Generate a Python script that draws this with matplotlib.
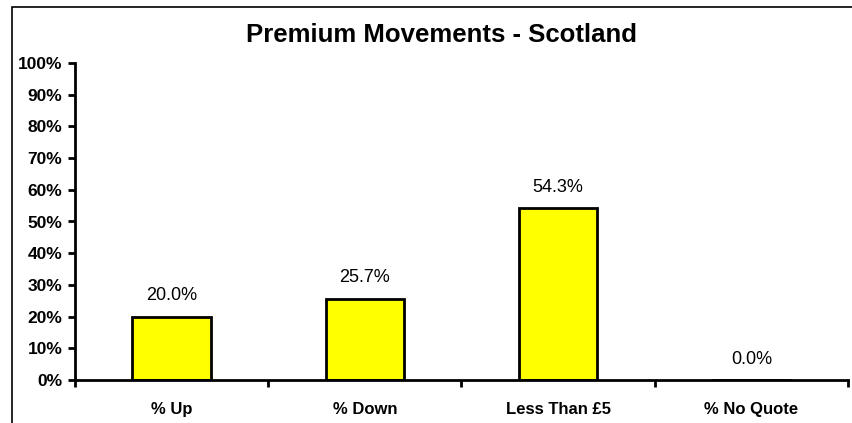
import numpy as np
import matplotlib.pyplot as plt
from matplotlib.patches import Rectangle
from matplotlib.ticker import FixedLocator, PercentFormatter

plt.rcParams['font.family'] = ['Liberation Sans', 'DejaVu Sans']

categories = ['% Up', '% Down', 'Less Than £5', '% No Quote']
shares = [20.0, 25.7, 54.3, 0.0]  # percent of quotes

fig = plt.figure(figsize=(8.53, 4.23), dpi=100)
ax = fig.add_axes([75 / 853, 43 / 423, 773 / 853, 317 / 423])

x = np.arange(len(categories))
ax.bar(x, shares, width=0.405, color='#ffff00', edgecolor='black', linewidth=2)

for xi, v in zip(x, shares):
    ax.annotate(f'{v:.1f}%', (xi, v), xytext=(0, 15), textcoords='offset points',
                ha='center', va='center', fontsize=13)

ax.set_xlim(-0.5, len(categories) - 0.5)
ax.set_ylim(0, 100)
ax.set_yticks(np.arange(0, 101, 10))
ax.yaxis.set_major_formatter(PercentFormatter(decimals=0))

# category labels sit between tick marks, which are at the boundaries
ax.set_xticks(x)
ax.set_xticklabels(categories, fontweight='bold', fontsize=12)
ax.xaxis.set_minor_locator(FixedLocator(np.arange(-0.5, len(categories), 1.0)))
ax.tick_params(axis='x', which='major', length=0, pad=15.5)
ax.tick_params(axis='x', which='minor', length=5, width=2, direction='out')
ax.tick_params(axis='y', length=5, width=2, pad=4, labelsize=12.5)
for lbl in ax.get_yticklabels():
    lbl.set_fontweight('bold')

for side in ['top', 'right']:
    ax.spines[side].set_visible(False)
for side in ['left', 'bottom']:
    ax.spines[side].set_linewidth(2)

fig.text(442 / 853, 1 - 35 / 423, 'Premium Movements - Scotland',
         ha='center', va='center', fontsize=18.5, fontweight='bold')

# chart area frame, running off the right and bottom edges
fig.patches.append(Rectangle((12 / 853, -0.1), 1.0, 1.1 - 7.5 / 423, transform=fig.transFigure,
                             fill=False, edgecolor='black', linewidth=1.2))

fig.savefig('out.png', dpi=100)
